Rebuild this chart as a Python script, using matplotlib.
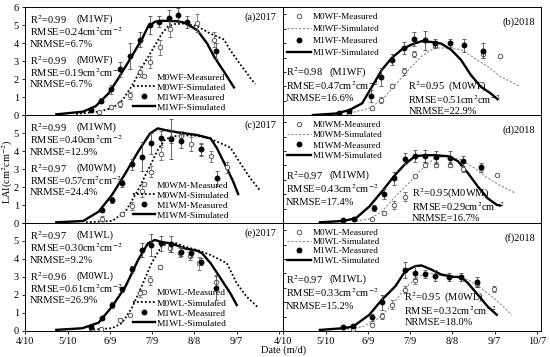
import matplotlib
matplotlib.use("Agg")
import matplotlib.pyplot as plt
from matplotlib.lines import Line2D

plt.rcParams['font.family'] = ['Liberation Serif', 'DejaVu Serif']
plt.rcParams['mathtext.fontset'] = 'stix'
plt.rcParams['font.size'] = 7.5

# x values are day of year (4/10 = 100)
tick_pos = [100, 130, 160, 190, 220, 250, 280]
tick_lab = ['4/10', '5/10', '6/9', '7/9', '8/8', '9/7', '10/7']

# ---- (a) 2017 WF
a_m1_sim_x = [122, 141, 150, 159, 166, 176, 183, 187, 192, 197, 208, 213, 222, 229, 234, 241, 248]
a_m1_sim_y = [0.04, 0.19, 0.5, 1.2, 2.04, 3.33, 4.26, 4.91, 5.19, 5.24, 5.22, 5.13, 4.72, 3.98, 3.24, 2.41, 1.54]
a_m0_sim_x = [136, 152, 162, 169, 176, 183, 190, 197, 201, 206, 213, 222, 231, 241, 245, 252, 263]
a_m0_sim_y = [0.06, 0.19, 0.4, 0.83, 1.67, 2.69, 3.61, 4.54, 4.91, 5.06, 5.09, 4.94, 4.54, 4.2, 3.65, 2.87, 1.72]
a_m1_obs_x = [146.5, 153.5, 160.5, 167.5, 174.5, 181.5, 188.5, 195, 202, 208.5, 215, 235]
a_m1_obs_y = [0.3, 0.8, 1.43, 2.54, 3.28, 4.2, 5.0, 5.18, 5.37, 5.55, 5.18, 3.57]
a_m1_obs_e = [0.1, 0.15, 0.25, 0.4, 0.7, 0.4, 0.5, 0.3, 0.45, 0.4, 0.35, 0.45]
a_m0_obs_x = [152, 160.5, 167.5, 174.5, 181.5, 188.5, 195.5, 202.5, 222, 234]
a_m0_obs_y = [0.15, 0.46, 0.61, 1.11, 2.41, 2.96, 3.76, 4.81, 5.13, 4.2]
a_m0_obs_e = [0.05, 0.1, 0.15, 0.2, 0.3, 0.35, 0.4, 0.45, 0.5, 0.4]

# ---- (b) 2018 WF
b_m1_sim_x = [121, 137.5, 147, 156, 163, 170, 177, 184, 191, 198, 205, 212, 219, 226, 233, 240, 247, 252]
b_m1_sim_y = [0.0, 0.11, 0.35, 0.82, 1.98, 3.15, 3.97, 4.55, 4.9, 5.13, 5.08, 4.97, 4.55, 3.85, 2.8, 1.98, 1.52, 1.1]
b_m0_sim_x = [144.5, 161, 170, 179.5, 189, 198, 207.5, 217, 226, 235.5, 245, 254, 263.5, 267]
b_m0_sim_y = [0.07, 0.47, 1.05, 2.1, 3.15, 4.08, 4.66, 4.66, 4.55, 3.97, 3.38, 2.68, 2.21, 2.03]
b_m1_obs_x = [139.5, 147, 162, 169.5, 177, 185.5, 193, 200.5, 207.5, 218, 228.5, 241.5]
b_m1_obs_y = [0.11, 0.3, 1.33, 2.64, 3.85, 4.66, 5.29, 5.2, 5.01, 5.01, 4.85, 4.48]
b_m1_obs_e = [0.05, 0.1, 0.4, 0.6, 0.4, 0.4, 0.5, 0.65, 0.3, 0.3, 0.45, 0.5]
b_m0_obs_x = [147, 163, 169.5, 177, 185.5, 193, 207.5, 241.5, 254]
b_m0_obs_y = [0.1, 0.47, 1.05, 2.03, 3.03, 4.27, 4.78, 4.27, 4.08]
b_m0_obs_e = [0.05, 0.1, 0.2, 0.15, 0.25, 0.2, 0.15, 0.3, 0.0]

# ---- (c) 2017 WM
c_m1_sim_x = [122, 141, 152, 161.5, 171, 180, 188.5, 194, 199, 208, 222, 231.5, 236, 243, 247.5, 251]
c_m1_sim_y = [0.04, 0.11, 0.63, 1.56, 2.76, 3.96, 4.98, 5.26, 5.17, 5.04, 4.89, 4.7, 4.15, 3.04, 2.3, 1.61]
c_m0_sim_x = [143, 161.5, 171, 180, 187, 194, 199, 203.5, 213, 222, 231.5, 240.5, 245.5, 252.5, 259.5, 266.5]
c_m0_sim_y = [0.04, 0.11, 0.63, 1.83, 2.94, 4.06, 4.61, 4.81, 4.87, 4.85, 4.67, 4.37, 4.19, 3.33, 2.5, 1.81]
c_m1_obs_x = [154.5, 161.5, 168.5, 175.5, 182.5, 189, 196.5, 203.5, 210.5, 224.5, 236]
c_m1_obs_y = [0.7, 1.28, 2.2, 3.26, 3.68, 4.43, 4.74, 4.67, 4.56, 4.09, 2.48]
c_m1_obs_e = [0.1, 0.15, 0.2, 0.3, 0.8, 0.6, 0.4, 1.1, 0.4, 0.3, 0.4]
c_m0_obs_x = [154.5, 168.5, 175.5, 182.5, 189.5, 196.5, 203.5, 210.5, 217.5, 224.5, 231.5, 243]
c_m0_obs_y = [0.25, 0.5, 0.95, 1.8, 2.85, 3.85, 4.75, 4.85, 4.4, 4.1, 3.7, 3.1]
c_m0_obs_e = [0.15, 0.1, 0.2, 0.35, 0.3, 0.35, 0.3, 0.25, 0.4, 0.35, 0.3, 0.3]

# ---- (d) 2018 WM
d_m1_sim_x = [126, 142.5, 151.5, 161, 170, 179.5, 186.5, 193.5, 200.5, 207.5, 217, 224, 231, 238, 245, 251.5, 254]
d_m1_sim_y = [0.05, 0.14, 0.33, 1.14, 2.19, 3.36, 4.1, 4.64, 4.71, 4.71, 4.64, 4.29, 3.47, 2.54, 1.72, 1.26, 1.21]
d_m0_sim_x = [149, 161, 170, 179.5, 189, 198, 207.5, 217, 226, 235.5, 245, 254, 264.5]
d_m0_sim_y = [0.09, 0.28, 0.79, 1.84, 2.77, 3.71, 4.52, 4.64, 4.41, 3.82, 3.12, 2.61, 2.08]
d_m1_obs_x = [142.5, 150.5, 164.5, 171.5, 178.5, 186.5, 193.5, 200.5, 208.5, 218, 227.5, 240]
d_m1_obs_y = [0.2, 0.3, 1.02, 2.0, 3.12, 4.48, 4.64, 4.64, 4.57, 4.52, 4.33, 3.87]
d_m1_obs_e = [0.05, 0.1, 0.2, 0.35, 0.45, 0.4, 0.4, 0.4, 0.45, 0.45, 0.35, 0.3]
d_m0_obs_x = [163, 171.5, 178.5, 186.5, 193.5, 200.5, 208.5, 218, 227.5, 240, 251.5]
d_m0_obs_y = [0.28, 0.68, 1.26, 1.84, 3.24, 4.06, 4.06, 4.06, 3.75, 3.8, 3.36]
d_m0_obs_e = [0.1, 0.15, 0.3, 0.3, 0.0, 0.15, 0.2, 0.2, 0.2, 0.15, 0.0]

# ---- (e) 2017 WL
e_m1_sim_x = [122, 140.5, 152, 161.5, 171, 180, 187, 192, 196.5, 203.5, 213, 222, 225.5, 231.5, 238.5, 245.5, 250]
e_m1_sim_y = [0.06, 0.15, 0.46, 1.35, 2.46, 3.94, 4.87, 5.06, 4.94, 4.87, 4.59, 4.46, 4.31, 3.76, 2.93, 2.09, 1.44]
e_m0_sim_x = [145.5, 161.5, 168.5, 175.5, 182.5, 189.5, 196.5, 201, 206, 213, 222, 231.5, 243, 250, 257, 265]
e_m0_sim_y = [0.06, 0.15, 0.43, 1.26, 2.46, 3.76, 4.69, 4.87, 4.91, 4.69, 4.5, 4.22, 3.76, 2.65, 1.91, 1.31]
e_m1_obs_x = [146.5, 154.5, 161.5, 168.5, 175.5, 182.5, 189, 196.5, 203.5, 210.5, 217.5, 224.5, 235]
e_m1_obs_y = [0.24, 0.7, 1.44, 2.31, 3.43, 4.5, 4.78, 4.87, 4.83, 4.41, 4.31, 3.85, 2.4]
e_m1_obs_e = [0.05, 0.1, 0.15, 0.15, 0.2, 0.4, 0.6, 0.4, 0.45, 0.25, 0.2, 0.2, 0.7]
e_m0_obs_x = [153.5, 167.5, 174.5, 181.5, 188.5, 195.5, 202.5, 209.5, 216.5, 223.5, 235]
e_m0_obs_y = [0.11, 0.61, 0.89, 2.09, 2.83, 3.57, 4.59, 4.35, 4.17, 3.76, 2.74]
e_m0_obs_e = [0.05, 0.1, 0.0, 0.2, 0.25, 0.1, 0.2, 0.25, 0.2, 0.35, 0.3]

# ---- (f) 2018 WL
f_m1_sim_x = [126, 142.5, 149.5, 161, 170, 179.5, 186.5, 193.5, 198, 205, 212, 221.5, 226, 231, 238, 245, 251.5]
f_m1_sim_y = [0.07, 0.19, 0.3, 1.12, 2.17, 3.1, 4.15, 4.5, 4.55, 4.27, 3.92, 3.75, 3.75, 3.33, 2.52, 1.7, 1.12]
f_m0_sim_x = [142.5, 156.5, 168, 177.5, 186.5, 196, 203, 212, 221.5, 231, 240, 249.5, 258.5, 262]
f_m0_sim_y = [0.07, 0.3, 0.89, 1.82, 2.98, 3.8, 4.03, 3.85, 3.75, 3.57, 2.98, 2.28, 1.47, 1.12]
f_m1_obs_x = [142.5, 149.5, 163, 170, 186.5, 193.5, 200.5, 207.5, 217.5, 226, 237.5]
f_m1_obs_y = [0.26, 0.35, 0.96, 1.98, 4.22, 4.03, 3.96, 3.85, 3.75, 3.75, 3.38]
f_m1_obs_e = [0.05, 0.1, 0.25, 0.5, 0.55, 0.45, 0.3, 0.35, 0.3, 0.3, 0.35]
f_m0_obs_x = [149.5, 163, 170, 177.5, 186.5, 193.5, 237.5, 249.5]
f_m0_obs_y = [0.1, 0.42, 1.05, 1.82, 2.87, 3.57, 3.29, 2.91]
f_m0_obs_e = [0.0, 0.1, 0.2, 0.3, 0.25, 0.3, 0.25, 0.2]

panels = [
    ('(a)2017', 'WF', 'left',
     [a_m1_sim_x, a_m1_sim_y, a_m0_sim_x, a_m0_sim_y, a_m1_obs_x, a_m1_obs_y, a_m1_obs_e, a_m0_obs_x, a_m0_obs_y, a_m0_obs_e],
     [('R$^2$=0.99', '(M1WF)', '0.24', '6.7%'), ('R$^2$=0.99', '(M0WF)', '0.19', '6.7%')]),
    ('(b)2018', 'WF', 'right',
     [b_m1_sim_x, b_m1_sim_y, b_m0_sim_x, b_m0_sim_y, b_m1_obs_x, b_m1_obs_y, b_m1_obs_e, b_m0_obs_x, b_m0_obs_y, b_m0_obs_e],
     [('R$^2$=0.98', '(M1WF)', '0.47', '16.6%'), ('R$^2$=0.95', '  (M0WF)', '0.51', '22.9%')]),
    ('(c)2017', 'WM', 'left',
     [c_m1_sim_x, c_m1_sim_y, c_m0_sim_x, c_m0_sim_y, c_m1_obs_x, c_m1_obs_y, c_m1_obs_e, c_m0_obs_x, c_m0_obs_y, c_m0_obs_e],
     [('R$^2$=0.99', '(M1WM)', '0.40', '12.9%'), ('R$^2$=0.97', '(M0WM)', '0.57', '24.4%')]),
    ('(d)2018', 'WM', 'right',
     [d_m1_sim_x, d_m1_sim_y, d_m0_sim_x, d_m0_sim_y, d_m1_obs_x, d_m1_obs_y, d_m1_obs_e, d_m0_obs_x, d_m0_obs_y, d_m0_obs_e],
     [('R$^2$=0.97', '(M1WM)', '0.43', '17.4%'), ('R$^2$=0.95', '(M0WM)', '0.29', '16.7%')]),
    ('(e)2017', 'WL', 'left',
     [e_m1_sim_x, e_m1_sim_y, e_m0_sim_x, e_m0_sim_y, e_m1_obs_x, e_m1_obs_y, e_m1_obs_e, e_m0_obs_x, e_m0_obs_y, e_m0_obs_e],
     [('R$^2$=0.97', '(M1WL)', '0.30', '9.2%'), ('R$^2$=0.96', '(M0WL)', '0.61', '26.9%')]),
    ('(f)2018', 'WL', 'right',
     [f_m1_sim_x, f_m1_sim_y, f_m0_sim_x, f_m0_sim_y, f_m1_obs_x, f_m1_obs_y, f_m1_obs_e, f_m0_obs_x, f_m0_obs_y, f_m0_obs_e],
     [('R$^2$=0.97', '(M1WL)', '0.33', '15.2%'), ('R$^2$=0.95', '  (M0WL)', '0.32', '18.0%')]),
]

# text block positions (axes fraction) for the right panels: M1 block, M0 block
right_blocks = {
    '(b)2018': ((0.01, 0.40), (0.485, 0.26)),
    '(d)2018': ((0.01, 0.44), (0.50, 0.27)),
    '(f)2018': ((0.01, 0.48), (0.47, 0.305)),
}
right_legend_spacing = {'(b)2018': 0.4, '(d)2018': 0.22, '(f)2018': 0.1}

fig, axes = plt.subplots(3, 2, figsize=(5.5, 3.57), dpi=100)
fig.subplots_adjust(left=0.046, right=0.984, top=0.98, bottom=0.073, wspace=0, hspace=0)

for i, (label, trt, side, d, stats) in enumerate(panels):
    ax = axes[i // 2, i % 2]
    m1sx, m1sy, m0sx, m0sy, m1ox, m1oy, m1oe, m0ox, m0oy, m0oe = d
    tr = ax.transAxes

    if side == 'left':
        dot_style = dict(color='black', linestyle=(0, (1, 1.2)), lw=1.3)
    else:
        dot_style = dict(color='0.55', linestyle=(0, (2, 1.5)), lw=0.8)

    ax.errorbar(m0ox, m0oy, yerr=m0oe, fmt='o', ms=3.2, mfc='white', mec='0.35', mew=0.7,
                ecolor='0.45', elinewidth=0.6, capsize=1.5, capthick=0.6, zorder=3)
    ax.plot(m0sx, m0sy, **dot_style, zorder=2)
    ax.errorbar(m1ox, m1oy, yerr=m1oe, fmt='o', ms=3.2, mfc='black', mec='black',
                ecolor='0.3', elinewidth=0.6, capsize=1.5, capthick=0.6, zorder=4)
    ax.plot(m1sx, m1sy, color='black', lw=1.7, zorder=2)

    handles = [
        Line2D([], [], marker='o', ls='none', ms=3.2, mfc='white', mec='0.35', mew=0.7),
        Line2D([], [], **dot_style),
        Line2D([], [], marker='o', ls='none', ms=3.2, mfc='black', mec='black'),
        Line2D([], [], color='black', lw=1.7),
    ]
    names = ['M0%s-Measured' % trt, 'M0%s-Simulated' % trt, 'M1%s-Measured' % trt, 'M1%s-Simulated' % trt]

    ax.set_xlim(100, 283)
    ax.set_xticks(tick_pos)
    ax.tick_params(labelsize=7.5, length=2.5, width=0.6, pad=2)
    (r1, t1, rm1, n1), (r0, t0, rm0, n0) = stats

    if side == 'left':
        ax.set_ylim(0, 6)
        ax.set_yticks(range(0, 7))
        if i == 0:
            ax.set_yticklabels([str(v) for v in range(0, 7)])
        else:
            ax.set_yticklabels([str(v) for v in range(0, 6)] + [''])
        ax.legend(handles, names, loc='lower left', bbox_to_anchor=(0.39, -0.03), frameon=False,
                  fontsize=6.8, handlelength=2.4, handletextpad=0.2, labelspacing=0.15, borderpad=0.2)
        rows = [0.885, 0.77, 0.655, 0.505, 0.39, 0.28]
        x0, x1 = 0.018, 0.2
        ax.text(x0, rows[0], r1, va='center', transform=tr)
        ax.text(x1, rows[0], t1, va='center', transform=tr)
        ax.text(x0, rows[1], 'RMSE=%scm$^{2}$cm$^{-2}$' % rm1, va='center', transform=tr)
        ax.text(x0, rows[2], 'NRMSE=%s' % n1, va='center', transform=tr)
        ax.text(x0, rows[3], r0, va='center', transform=tr)
        ax.text(x1, rows[3], t0, va='center', transform=tr)
        ax.text(x0, rows[4], 'RMSE=%scm$^{2}$cm$^{-2}$' % rm0, va='center', transform=tr)
        ax.text(x0, rows[5], 'NRMSE=%s' % n0, va='center', transform=tr)
        ax.text(0.975, 0.905, label, ha='right', va='center', transform=tr)
        ax.tick_params(axis='y', direction='out')
    else:
        ax.set_ylim(0, 7.5)
        ax.set_yticks(range(0, 8))
        ax.set_yticklabels([])
        ax.tick_params(axis='y', direction='in')
        ax.legend(handles, names, loc='upper left', bbox_to_anchor=(-0.01, 1.01), frameon=False,
                  fontsize=6.6, handlelength=2.6, handletextpad=0.2,
                  labelspacing=right_legend_spacing[label], borderpad=0.2)
        (bx1, by1), (bx0, by0) = right_blocks[label]
        step = 0.125
        ax.text(bx1, by1, r1, va='center', transform=tr)
        ax.text(bx1 + 0.17, by1, t1, va='center', transform=tr)
        ax.text(bx1, by1 - step, 'RMSE=%scm$^{2}$cm$^{-2}$' % rm1, va='center', transform=tr)
        ax.text(bx1, by1 - 2 * step, 'NRMSE=%s' % n1, va='center', transform=tr)
        ax.text(bx0, by0, r0 + t0, va='center', transform=tr)
        ax.text(bx0, by0 - 0.115, 'RMSE=%scm$^{2}$cm$^{-2}$' % rm0, va='center', transform=tr)
        ax.text(bx0, by0 - 0.23, 'NRMSE=%s' % n0, va='center', transform=tr)
        ax.text(0.975, 0.86, label, ha='right', va='center', transform=tr)

    if i >= 4:
        labs = list(tick_lab)
        if side == 'left':
            labs[-1] = ''
        ax.set_xticklabels(labs)
    else:
        ax.set_xticklabels([])
    for s in ax.spines.values():
        s.set_linewidth(0.7)

fig.text(0.014, 0.52, 'LAI(cm$^2$cm$^{-2}$)', rotation=90, ha='center', va='center', fontsize=7.5)
fig.text(0.516, 0.018, 'Date (m/d)', ha='center', va='center', fontsize=7.5)

fig.savefig('out.png', dpi=100)
